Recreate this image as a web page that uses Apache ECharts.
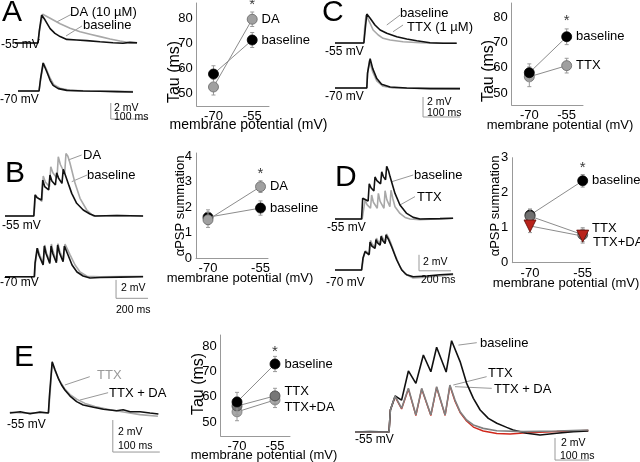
<!DOCTYPE html>
<html><head><meta charset="utf-8">
<script src="https://cdn.jsdelivr.net/npm/echarts@6/dist/echarts.min.js"></script>
<style>html,body{margin:0;padding:0;background:#fff}#c{width:640px;height:462px}</style>
</head><body><div id="c"></div>
<script>
// ---------------- DATA ----------------
// membrane potentials of the summary plots (mV)
const vm = [-70, -55];
const tauTicks = [50, 60, 70, 80];
const sumTicksB = [0, 1, 2, 3, 4];
const sumTicksD = [0, 1, 2, 3];

// Panel A summary: Tau (ms)
const tauA_base = [57.6, 71.2], tauA_base_err = [3.3, 3.0];
const tauA_DA = [52.4, 79.5], tauA_DA_err = [3.2, 2.9];
const starA = 85.4;
// Panel C summary: Tau (ms)
const tauC_base = [58.0, 72.2], tauC_base_err = [3.5, 3.1];
const tauC_TTX = [56.4, 60.8], tauC_TTX_err = [3.9, 2.9];
const starC = 78.3;
// Panel B summary: aPSP summation
const sumB_base = [1.6, 1.96], sumB_base_err = [0.29, 0.28];
const sumB_DA = [1.5, 2.8], sumB_DA_err = [0.3, 0.23];
const starB = 3.3;
// Panel D summary: aPSP summation
const sumD_base = [1.36, 2.34], sumD_base_err = [0.17, 0.18];
const sumD_TTX = [1.33, 0.8], sumD_TTX_err = [0.2, 0.2];
const sumD_TTXDA = [1.05, 0.76], sumD_TTXDA_err = [0.19, 0.2];
const starD = 2.7;
// Panel E summary: Tau (ms)
const tauE_base = [57.9, 72.9], tauE_base_err = [3.8, 3.0];
const tauE_TTX = [56.3, 60.3], tauE_TTX_err = [3.5, 3.0];
const tauE_TTXDA = [54.0, 58.7], tauE_TTXDA_err = [3.5, 3.0];
const starE = 77.8;

// Voltage traces: [time (ms), depolarisation from rest (mV)]
const trA55_base = [[0,0],[62,0],[66,1.6],[72,3.5],[81,2.9],[95,1.8],[108,1.2],[122,0.8],[140,0.45],[167,0.38],[194,0.3],[230,0.16],[265,0.04],[292,-0.04],[297,0.12],[311,0.08],[330,0.04]];
const trA55_DA = [[0,0],[62,0],[67,1.8],[75,3.6],[95,3.1],[122,2.4],[149,1.85],[176,1.4],[203,1.1],[230,0.8],[257,0.5],[284,0.25],[311,0.04],[330,-0.04]];
const trA70_base = [[8,0],[65,0],[69,1.5],[76,3.5],[86,2.4],[95,1.34],[103,0.7],[117,0.3],[140,0.08],[184,0],[230,-0.04],[275,-0.08],[319,-0.12]];
const trA70_DA = [[8,0],[65,0],[70,1.6],[77,3.5],[86,2.6],[95,1.6],[105,0.8],[122,0.35],[149,0.1],[203,0],[319,-0.08]];

const trC55_base = [[0,0],[78,0],[82,1.5],[86,2.9],[95,2.47],[108,1.8],[122,1.3],[140,0.97],[167,0.63],[194,0.4],[221,0.23],[257,0.03],[292,-0.03],[329,-0.03]];
const trC55_TTX = [[0,0],[78,0],[80,1.4],[84,2.8],[95,1.97],[103,1.3],[117,0.8],[130,0.47],[149,0.3],[184,0.13],[230,0.03],[275,-0.03],[329,-0.03]];
const trC70_base = [[0,0],[86,0],[88,1.5],[95,2.94],[102,1.94],[113,0.94],[126,0.37],[149,0.1],[194,0],[257,-0.06],[338,-0.06]];
const trC70_TTX = [[0,0],[86,0],[88,1.4],[93,2.77],[102,1.6],[113,0.7],[130,0.17],[157,0],[338,-0.06]];

const trB55_base = [[0,0],[180,0],[188,2.3],[200,2.0],[228,1.74],[236,3.9],[248,3.2],[273,2.83],[281,4.46],[293,3.8],[315,3.37],[323,4.7],[335,4.1],[356,3.55],[364,5.07],[378,4.4],[400,3.3],[417,2.46],[448,1.38],[489,0.65],[531,0.22],[563,0],[700,0.05],[863,0]];
const trB55_DA = [[0,0],[181,0],[191,2.3],[203,2.0],[231,1.6],[239,4.35],[252,3.7],[278,3.18],[286,5.36],[299,4.7],[325,4.1],[333,6.44],[346,5.6],[373,4.64],[381,6.8],[393,6.5],[406,5.76],[438,3.55],[469,1.92],[511,0.65],[552,0],[700,0.05],[863,0]];
const trB70_base = [[0,0],[183,0],[188,1.5],[201,3.1],[213,2.3],[238,1.27],[246,3.34],[257,2.5],[280,1.45],[288,3.34],[299,2.5],[321,1.52],[329,3.44],[340,2.6],[363,1.63],[371,3.34],[394,2.36],[419,1.27],[450,0.51],[488,0.08],[531,-0.14],[594,-0.09],[719,-0.05],[863,0]];
const trB70_DA = [[0,0],[185,0],[190,1.5],[204,3.1],[216,2.4],[240,1.4],[248,3.45],[259,2.6],[282,1.6],[290,3.55],[301,2.7],[323,1.7],[331,3.6],[342,2.8],[365,1.8],[375,3.55],[406,2.4],[438,1.27],[469,0.51],[513,0.05],[594,0],[863,0.05]];

const trD55_base = [[0,0],[166,0],[173,2.6],[185,2.4],[207,2.25],[214,4.4],[225,3.9],[243,3.5],[250,5.25],[262,4.8],[285,4.4],[292,5.9],[302,5.3],[316,4.9],[323,6.6],[335,6.0],[344,5.3],[375,3.2],[406,1.75],[448,0.7],[489,0.2],[531,0],[656,0.05],[738,0.1]];
const trD55_TTX = [[0,0],[170,0],[188,2.4],[200,1.8],[222,1.34],[229,3.0],[240,2.1],[264,1.34],[271,3.2],[282,2.2],[306,1.34],[313,3.54],[324,2.4],[343,1.54],[350,3.6],[362,2.5],[375,1.54],[406,0.7],[438,0.2],[469,0],[531,-0.1],[738,0.1]];
const trD70_base = [[0,0],[166,0],[175,1.5],[188,2.3],[213,1.9],[219,3.5],[230,3.0],[250,2.7],[256,3.8],[266,3.4],[282,3.1],[288,4.2],[298,3.7],[313,3.3],[319,4.4],[335,3.8],[354,2.9],[386,1.25],[417,0],[448,-0.6],[489,-0.85],[573,-0.75],[656,-0.6],[738,-0.5]];
const trD70_TTX = [[0,0],[168,0],[177,1.5],[191,2.4],[215,2.0],[222,3.7],[233,3.2],[253,2.9],[259,4.0],[269,3.6],[285,3.3],[291,4.3],[301,3.9],[316,3.5],[322,4.5],[338,3.9],[350,3.3],[375,1.9],[406,0.4],[438,-0.5],[488,-1.0],[575,-0.9],[738,-0.6]];

const trE_TTX = [[4,0.05],[30,0],[60,0.02],[86,0],[89,1.0],[94,3.1],[102,2.5],[111,1.95],[121,1.5],[132,1.15],[147,0.85],[164,0.6],[185,0.4],[217,0.2],[249,0.05],[281,-0.1],[319,-0.2]];
const trE_TTXDA = [[4,0],[26,0.08],[47,-0.05],[68,0.06],[86,0],[88,1.0],[94,3.2],[100,2.7],[107,2.17],[114,1.75],[121,1.44],[132,1.06],[146,0.71],[160,0.5],[182,0.36],[203,0.23],[231,0.14],[245,0.2],[260,0.08],[281,0.08],[302,0],[320,-0.06]];

const trEb_base = [[0,0],[44,0.05],[100,0],[104,2.0],[118,3.27],[137,2.9],[157,5.55],[179,4.42],[201,7.0],[223,5.48],[240,7.7],[268,5.45],[284,8.3],[309,6.4],[328,4.45],[348,3.06],[368,2.0],[392,1.24],[417,0.79],[446,0.42],[465,0.18],[505,-0.12],[544,-0.27],[593,-0.12],[642,0.03],[686,0.09]];
const trEb_TTX = [[0,0],[100,0],[104,2.0],[118,3.27],[137,2.15],[157,3.97],[179,1.55],[196,3.97],[223,1.55],[240,4.12],[265,1.55],[279,4.27],[294,2.9],[309,1.85],[328,1.09],[348,0.64],[377,0.33],[417,0.12],[495,0.03],[593,0.09],[686,0.18]];
const trEb_TTXDA = [[0,0],[100,0],[104,2.0],[118,3.2],[137,2.1],[157,3.9],[179,1.5],[196,3.9],[223,1.5],[240,4.05],[265,1.5],[279,4.2],[294,2.8],[309,1.77],[328,1.0],[348,0.45],[377,0.09],[417,-0.14],[456,-0.18],[495,-0.09],[593,0.05],[686,0.14]];

// scale bars (2 mV / 100 or 200 ms) and label leader lines, in trace units
const barA = [[259,-1.5],[259,-3.5],[359,-3.5]];
const barC = [[238,-0.9],[238,-2.9],[338,-2.9]];
const barB = [[694,-0.35],[694,-2.35],[894,-2.35]];
const barD = [[525,1.9],[525,-0.1],[725,-0.1]];
const barE = [[223,-0.44],[223,-2.44],[323,-2.44]];
const barEb = [[588,-0.55],[588,-2.55],[688,-2.55]];
const leadA = [[[154,3.63],[113,2.63]], [[181,2.13],[138,0.88]]];
const leadC = [[[176,2.8],[140,1.8]], [[184,1.8],[157,1.13]]];
const leadB = [[[479,6.63],[396,6.09]], [[514,4.46],[417,3.73]]];
const leadD = [[[489,5.5],[354,4.66]], [[500,2.8],[406,1.75]]];
const leadE = [[[174,2.27],[121,1.75]], [[213,1.27],[153,0.81]]];
const leadEb = [[[358,8.12],[304,7.9]], [[387,5.03],[289,4.27]], [[402,3.97],[294,4.12]]];

// ---------------- BUILD ----------------
const FONT = '"Liberation Sans", Arial, Helvetica, sans-serif';
const BLACK = '#111', GRAY = '#a8a8a8', MID = '#808080', RED = '#d0281c', LINE = '#999';
const grids = [], xAxes = [], yAxes = [], series = [];

function traceGrid(left, top, width, height, xmax, ymin, ymax) {
  const i = grids.length;
  grids.push({left, top, width, height, outerBoundsMode: 'none', containLabel: false});
  xAxes.push({type: 'value', gridIndex: i, min: 0, max: xmax, show: false});
  yAxes.push({type: 'value', gridIndex: i, min: ymin, max: ymax, show: false});
  return i;
}
function line(gi, data, color, width, z) {
  series.push({type: 'line', xAxisIndex: gi, yAxisIndex: gi, data, symbol: 'none', showSymbol: false,
    lineStyle: {color, width}, clip: false, silent: true, z: z || 2, animation: false});
}
function annot(gi, bar, leads) {
  if (bar) line(gi, bar, LINE, 1, 1);
  (leads || []).forEach(l => line(gi, l, LINE, 1, 1));
}
function scatterGrid(left, top, width, height, xmin, xmax, ymin, ymax, yticks) {
  const i = grids.length;
  grids.push({left, top, width, height, outerBoundsMode: 'none', containLabel: false});
  const lab = {color: '#000', fontSize: 13, fontFamily: FONT, margin: 4};
  xAxes.push({type: 'value', gridIndex: i, min: xmin, max: xmax, splitLine: {show: false},
    axisLine: {show: true, onZero: false, lineStyle: {color: LINE, width: 1}}, axisTick: {show: false},
    axisLabel: Object.assign({customValues: vm}, lab)});
  yAxes.push({type: 'value', gridIndex: i, min: ymin, max: ymax, splitLine: {show: false},
    axisLine: {show: true, onZero: false, lineStyle: {color: LINE, width: 1}}, axisTick: {show: false},
    axisLabel: Object.assign({customValues: yticks}, lab)});
  return i;
}
function errBars(gi, vals, errs, z) {
  series.push({type: 'custom', xAxisIndex: gi, yAxisIndex: gi, silent: true, animation: false, clip: false, z: z,
    encode: {x: 0, y: [1, 2]},
    data: vm.map((x, k) => [x, vals[k] - errs[k], vals[k] + errs[k]]),
    renderItem: (p, api) => {
      const lo = api.coord([api.value(0), api.value(1)]);
      const hi = api.coord([api.value(0), api.value(2)]);
      const w = 2, st = {stroke: '#9a9a9a', lineWidth: 1};
      return {type: 'group', children: [
        {type: 'line', shape: {x1: lo[0], y1: lo[1], x2: hi[0], y2: hi[1]}, style: st},
        {type: 'line', shape: {x1: lo[0] - w, y1: lo[1], x2: lo[0] + w, y2: lo[1]}, style: st},
        {type: 'line', shape: {x1: hi[0] - w, y1: hi[1], x2: hi[0] + w, y2: hi[1]}, style: st}]};
    }});
}
function cond(gi, vals, errs, name, o) {
  errBars(gi, vals, errs, o.z - 1);
  series.push({type: 'line', xAxisIndex: gi, yAxisIndex: gi, silent: true, animation: false, z: o.z,
    symbol: o.symbol || 'circle', symbolSize: o.size || 10, symbolRotate: o.rotate || 0,
    itemStyle: {color: o.color, borderColor: o.border || o.color, borderWidth: 0.8},
    lineStyle: {color: '#8c8c8c', width: 1},
    data: [{value: [vm[0], vals[0]]},
      {value: [vm[1], vals[1]], label: {show: true, position: 'right', distance: 4, formatter: name,
        offset: o.offset || [0, 0], color: '#000', fontSize: 13, fontFamily: FONT}}]});
}
function star(gi, v) {
  series.push({type: 'scatter', xAxisIndex: gi, yAxisIndex: gi, silent: true, animation: false, z: 9,
    symbolSize: 1, itemStyle: {color: 'rgba(0,0,0,0)'}, data: [[vm[1], v]],
    label: {show: true, position: 'inside', formatter: '*', color: '#000', fontSize: 15, fontFamily: FONT}});
}

// ---- panel A traces
let g = traceGrid(15, 3, 135, 48, 365, -1, 5);
annot(g, null, leadA);
line(g, trA55_DA, GRAY, 1.6, 2); line(g, trA55_base, BLACK, 1.6, 3);
g = traceGrid(15, 51, 135, 72, 365, -4, 5);
annot(g, barA);
line(g, trA70_DA, GRAY, 1.6, 2); line(g, trA70_base, BLACK, 1.6, 3);
// ---- panel C traces
g = traceGrid(335, 3, 135, 50, 365, -1, 4);
annot(g, null, leadC);
line(g, trC55_TTX, GRAY, 1.6, 2); line(g, trC55_base, BLACK, 1.6, 3);
g = traceGrid(335, 48, 135, 70, 365, -3, 4);
annot(g, barC);
line(g, trC70_TTX, GRAY, 1.6, 2); line(g, trC70_base, BLACK, 1.6, 3);
// ---- panel B traces
g = traceGrid(5, 142.4, 145, 82.8, 906.25, -1, 8);
annot(g, null, leadB);
line(g, trB55_DA, GRAY, 1.6, 2); line(g, trB55_base, BLACK, 1.6, 3);
g = traceGrid(5, 230.7, 145, 73.6, 906.25, -3, 5);
annot(g, barB);
line(g, trB70_DA, GRAY, 1.6, 2); line(g, trB70_base, BLACK, 1.6, 3);
// ---- panel D traces
g = traceGrid(335, 155, 125, 72, 781.25, -1, 8);
annot(g, null, leadD);
line(g, trD55_TTX, GRAY, 1.6, 2); line(g, trD55_base, BLACK, 1.6, 3);
g = traceGrid(335, 230, 125, 56, 781.25, -2, 5);
annot(g, barD);
line(g, trD70_TTX, GRAY, 1.6, 2); line(g, trD70_base, BLACK, 1.6, 3);
// ---- panel E traces
g = traceGrid(8, 349, 155, 112, 329.8, -3, 4);
annot(g, barE, leadE);
line(g, trE_TTX, GRAY, 1.6, 2); line(g, trE_TTXDA, BLACK, 1.6, 3);
g = traceGrid(355, 333, 240, 132, 705.6, -3, 9);
annot(g, barEb, leadEb);
line(g, trEb_TTXDA, RED, 1.4, 2); line(g, trEb_base, BLACK, 1.6, 3); line(g, trEb_TTX, MID, 1.6, 4);

// ---- summary plots
g = scatterGrid(196.7, 3, 72.3, 103, -76.5, -48.5, 44.8, 86, tauTicks);
cond(g, tauA_DA, tauA_DA_err, 'DA', {color: '#a0a0a0', border: '#666', z: 6});
cond(g, tauA_base, tauA_base_err, 'baseline', {color: '#000', z: 8});
star(g, starA);

g = scatterGrid(511.7, 3, 71.3, 102, -77.07, -48.45, 45.26, 85.53, tauTicks);
cond(g, tauC_TTX, tauC_TTX_err, 'TTX', {color: '#a0a0a0', border: '#666', z: 6});
cond(g, tauC_base, tauC_base_err, 'baseline', {color: '#000', z: 8});
star(g, starC);

g = scatterGrid(196, 153, 72, 105, -73.43, -52.86, 0, 4.12, sumTicksB);
cond(g, sumB_DA, sumB_DA_err, 'DA', {color: '#a0a0a0', border: '#666', z: 8});
cond(g, sumB_base, sumB_base_err, 'baseline', {color: '#000', z: 6});
star(g, starB);

g = scatterGrid(512.3, 157.7, 77.7, 105, -75.04, -52.92, 0, 3, sumTicksD);
cond(g, sumD_base, sumD_base_err, 'baseline', {color: '#000', z: 4});
cond(g, sumD_TTX, sumD_TTX_err, 'TTX', {color: '#707070', border: '#444', z: 6, offset: [0, -6]});
cond(g, sumD_TTXDA, sumD_TTXDA_err, 'TTX+DA', {color: '#b8231b', border: '#5a0c08', z: 8, symbol: 'triangle', rotate: 180, size: 12, offset: [0, 6]});
star(g, starD);

g = scatterGrid(220.7, 335, 69.3, 101, -76.44, -49.08, 44.47, 84.34, tauTicks);
cond(g, tauE_TTXDA, tauE_TTXDA_err, 'TTX+DA', {color: '#a8a8a8', border: '#777', z: 4, offset: [0, 7]});
cond(g, tauE_TTX, tauE_TTX_err, 'TTX', {color: '#777', border: '#444', z: 6, offset: [0, -4]});
cond(g, tauE_base, tauE_base_err, 'baseline', {color: '#000', z: 8});
star(g, starE);

// ---------------- TEXT ----------------
function T(text, x, y, size, o) {
  o = o || {};
  return {type: 'text', x, y, rotation: o.rot || 0, silent: true, z: 20,
    style: {text, x: 0, y: 0, fill: o.fill || '#000', font: (size) + 'px ' + FONT,
      align: o.align || 'left', verticalAlign: o.va || 'middle'}};
}
const V = Math.PI / 2;
const texts = [
  T('A', 2, 13, 30), T('C', 322, 13, 30), T('B', 5, 174, 30), T('D', 335, 178, 30), T('E', 14, 358, 30),
  T('DA (10 µM)', 70, 12, 13), T('baseline', 83, 25, 13),
  T('baseline', 400, 13, 13), T('TTX (1 µM)', 407, 27, 13),
  T('DA', 83, 155, 13), T('baseline', 87, 175, 13),
  T('baseline', 414, 175, 13), T('TTX', 417, 197, 13),
  T('TTX', 97, 375, 13, {fill: '#999'}), T('TTX + DA', 109, 393, 13),
  T('baseline', 480, 343, 13), T('TTX', 488, 373, 13), T('TTX + DA', 494, 389, 13),
  T('-55 mV', 1, 45, 12), T('-70 mV', 0, 100, 12),
  T('-55 mV', 325, 52, 12), T('-70 mV', 325, 97, 12),
  T('-55 mV', 2, 226, 12), T('-70 mV', 0, 283, 12),
  T('-55 mV', 327, 228, 12), T('-70 mV', 326, 283, 12),
  T('-55 mV', 7, 425, 12), T('-55 mV', 355, 440, 12),
  T('2 mV', 114, 108, 10.5), T('100 ms', 114, 117, 10.5),
  T('2 mV', 427, 102, 10.5), T('100 ms', 427, 113, 10.5),
  T('2 mV', 121, 288, 10.5), T('200 ms', 116, 310, 10.5),
  T('2 mV', 423, 262, 10.5), T('200 ms', 421, 280, 10.5),
  T('2 mV', 118, 432, 10.5), T('100 ms', 118, 446, 10.5),
  T('2 mV', 561, 443, 10.5), T('100 ms', 560, 456, 10.5),
  T('Tau (ms)', 174.5, 72, 16, {rot: V, align: 'center'}),
  T('membrane potential (mV)', 248.5, 125, 14, {align: 'center'}),
  T('Tau (ms)', 489, 71, 16, {rot: V, align: 'center'}),
  T('membrane potential (mV)', 560, 125, 13, {align: 'center'}),
  T('αPSP summation', 180, 206, 13, {rot: V, align: 'center'}),
  T('membrane potential (mV)', 240, 278, 13, {align: 'center'}),
  T('αPSP summation', 495, 206, 13, {rot: V, align: 'center'}),
  T('membrane potential (mV)', 566, 283, 13, {align: 'center'}),
  T('Tau (ms)', 199, 384, 16, {rot: V, align: 'center'}),
  T('membrane potential (mV)', 264, 455, 13, {align: 'center'})
];

const chart = echarts.init(document.getElementById('c'));
chart.setOption({
  animation: false,
  backgroundColor: '#fff',
  grid: grids, xAxis: xAxes, yAxis: yAxes, series,
  graphic: texts
});
</script></body></html>
